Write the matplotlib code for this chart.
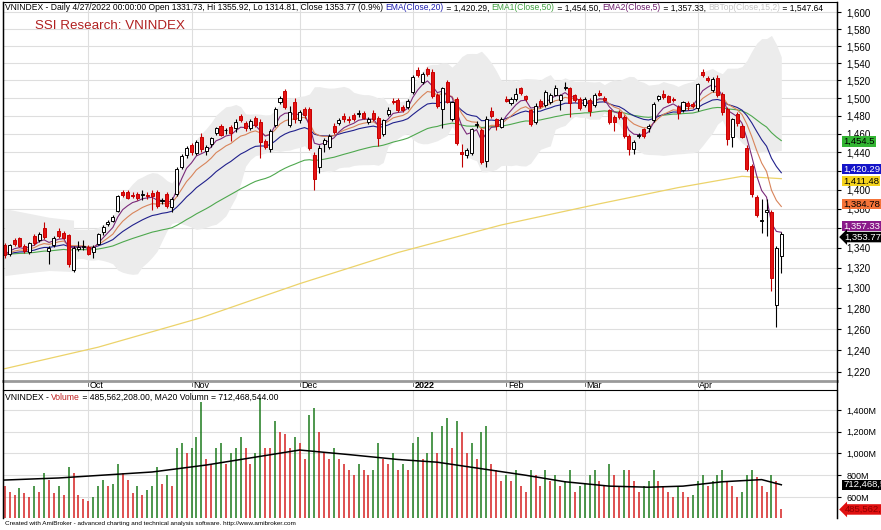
import numpy as np
import pandas as pd
import matplotlib
matplotlib.use("Agg")
import matplotlib.pyplot as plt
import matplotlib.transforms as mtransforms
from matplotlib.ticker import NullLocator
from matplotlib.lines import Line2D

# ---------------- data ----------------
opens = [1343,1334,1348,1350,1342,1336,1352,1348,1360,1337,1343,1357,1355,1353,1318,1339,1341,
         1341,1336,1344,1356,1364,1367,1377,1397,1397,1394,1395,1394,1394,1396,1397,1388,1395,1382,1395,1424,1437,
         1448,1439,1457,1441,1449,1461,1469,1464,1468,1467,1480,1472,1466,1478,1473,1452,1443,1470,1495,1508,1470,1495,
         1475,1488,1488,1437,1424,1449,1446,1469,1472,1480,1476,1481,1482,1483,1473,1483,1478,1460,1482,1497,1498,1490,1490,
         1507,1532,1518,1533,1530,1504,1488,1518,1476,1499,1440,1437,1439,1470,1464,1430,1485,1476,1468,
         1499,1494,1499,1511,1502,1486,1473,1497,1492,1495,1504,1498,1511,1511,1503,1499,
         1492,1498,1492,1506,1500,1486,1479,1484,1479,1458,1443,1458,1465,1466,1475,1499,1505,1502,1499,1490,1486,1494,1493,
         1489,1530,1523,1509,1523,1505,1488,1457,1482,1469,1445,1425,1392,1367,1376,1376,1283,1331.73]
highs = [1345,1344,1350,1351,1344,1346,1354,1356,1366,1342,1352,1360,1357,1354,1342,1347,1348,
         1343,1343,1355,1363,1368,1373,1394,1400,1399,1397,1397,1400,1397,1399,1399,1391,1397,1392,1424,1438,1447,
         1450,1453,1461,1448,1457,1468,1471,1467,1470,1476,1482,1474,1476,1480,1476,1454,1465,1490,1502,1510,1491,1500,
         1486,1490,1490,1440,1448,1455,1460,1472,1478,1483,1480,1483,1487,1485,1479,1486,1480,1477,1490,1500,1500,1492,1499,
         1526,1535,1530,1536,1533,1506,1513,1521,1497,1501,1449,1444,1467,1474,1467,1480,1490,1478,1479,
         1502,1501,1511,1513,1504,1488,1494,1499,1509,1506,1515,1505,1518,1513,1505,1501,
         1501,1500,1506,1509,1502,1488,1481,1486,1481,1460,1453,1461,1467,1471,1495,1504,1509,1504,1501,1492,1497,1497,1495,
         1517,1533,1525,1524,1526,1507,1490,1478,1484,1471,1448,1427,1394,1390,1390,1378,1342,1355.92]
lows = [1329,1332,1342,1341,1335,1334,1343,1346,1349,1323,1341,1350,1349,1321,1316,1337,1338,
        1333,1330,1343,1353,1362,1366,1376,1392,1390,1391,1389,1389,1390,1378,1381,1385,1381,1376,1393,1422,1434,
        1437,1437,1440,1437,1446,1459,1458,1460,1452,1462,1473,1463,1464,1468,1434,1443,1440,1468,1493,1488,1468,1472,
        1472,1478,1442,1400,1418,1440,1443,1460,1470,1473,1472,1474,1479,1476,1471,1474,1447,1458,1480,1493,1484,1484,1488,
        1505,1524,1516,1525,1500,1489,1467,1494,1474,1448,1424,1434,1437,1466,1427,1424,1478,1464,1466,
        1495,1492,1497,1504,1497,1469,1471,1489,1490,1493,1502,1486,1509,1479,1496,1487,
        1490,1480,1490,1502,1496,1471,1463,1476,1455,1437,1438,1455,1456,1462,1473,1497,1499,1494,1496,1476,1484,1486,1489,
        1485,1524,1518,1507,1501,1481,1448,1446,1469,1455,1420,1392,1371,1355,1352,1297,1262,1314.81]
closes = [1333,1343,1344,1342,1337,1345,1345,1354,1351,1340,1350,1352,1350,1323,1340,1341,1342,
          1334,1341,1354,1361,1366,1371,1393,1394,1391,1393,1391,1395,1393,1393,1383,1388,1383,1390,1422,1436,1445,
          1440,1451,1443,1446,1455,1466,1459,1464,1461,1473,1475,1466,1474,1470,1451,1446,1463,1488,1500,1490,1484,1477,
          1484,1481,1444,1411,1445,1453,1458,1462,1475,1476,1475,1476,1482,1478,1477,1476,1455,1475,1487,1495,1486,1486,1497,
          1524,1526,1528,1528,1502,1491,1511,1496,1495,1450,1438,1442,1465,1471,1429,1477,1480,1469,1477,
          1497,1499,1505,1506,1499,1471,1491,1491,1507,1504,1511,1503,1513,1494,1498,1489,
          1499,1485,1504,1504,1498,1473,1473,1479,1458,1443,1451,1458,1458,1469,1493,1502,1501,1496,1498,1483,1495,1491,1491,
          1516,1526,1520,1522,1504,1484,1454,1476,1472,1457,1422,1395,1373,1368,1378,1310,1340,1353.77]
volumes_m = [700,650,620,680,640,600,700,650,820,760,640,700,620,880,820,620,580,
             560,600,700,760,700,720,900,820,760,640,700,620,660,700,880,720,800,700,1050,1100,1000,
             1050,1150,1470,950,900,1050,1100,900,1000,1050,1150,1050,900,1000,1510,1050,1050,1300,1200,1180,1050,1150,
             1100,950,1350,1420,1200,1000,950,1050,950,900,850,800,900,850,800,850,1100,950,900,1000,850,900,850,
             1100,1150,950,1000,1200,1000,1250,1330,1050,1300,1200,1000,1100,950,1200,1250,900,850,750,
             800,750,850,700,650,850,800,700,850,750,800,700,750,850,650,700,
             720,800,850,750,700,900,800,700,850,850,750,650,700,750,850,750,700,650,600,700,650,600,620,
             750,800,700,750,800,850,750,700,600,650,800,850,780,700,650,800,750,485.56]

month_labels = ["Oct", "Nov", "Dec", "2022", "Feb", "Mar", "Apr"]
month_start = [17, 38, 60, 83, 102, 118, 141]

ma200_idx = [0, 19, 40, 60, 80, 101, 121, 137, 150, 158]
ma200_val = [1223, 1243, 1271, 1304, 1335, 1363, 1385, 1402, 1414, 1411.48]

# cloud edges read where they are not given by 15 earlier closes, and the cloud floor on the last bars
band_early_idx = [0, 5, 9, 14]
band_early_top = [1380, 1375, 1371, 1368]
band_early_bot = [1312, 1315, 1317, 1316]
band_late_idx = [150, 151, 152, 153, 154, 155, 156, 157, 158]
band_late_bot = [1450, 1446, 1443, 1441, 1440, 1440, 1440, 1441, 1442]

volma_idx = [0, 11, 30, 41, 60, 70, 80, 88, 97, 106, 114, 123, 131, 138, 146, 154, 158]
volma_val = [756, 775, 830, 894, 1032, 990, 945, 920, 860, 800, 740, 700, 690, 700, 740, 760, 712.47]

price_ticks = list(range(1220, 1601, 20))
price_tick_hidden = [1420, 1360]
vol_ticks = [600, 800, 1000, 1200, 1400]

# ---------------- figure ----------------
W, H = 881, 530
plt.rcParams['font.family'] = ['Liberation Sans', 'DejaVu Sans']
fig = plt.figure(figsize=(W / 100, H / 100), dpi=100)


def rect(x0, y0, x1, y1):
    return [x0 / W, 1 - y1 / H, (x1 - x0) / W, (y1 - y0) / H]


ax = fig.add_axes(rect(2.5, 1.5, 837, 381))
axv = fig.add_axes(rect(2.5, 390, 837, 518))

o = np.array(opens, float)
h = np.array(highs, float)
l = np.array(lows, float)
c = np.array(closes, float)
v = np.array(volumes_m, float)
n = len(c)
idx = np.arange(n)

cs = pd.Series(c)
ema5 = cs.ewm(span=5, adjust=False).mean()
ema10 = cs.ewm(span=10, adjust=False).mean()
ema20 = cs.ewm(span=20, adjust=False).mean()
ema50 = cs.ewm(span=50, adjust=False).mean()
sma15 = cs.rolling(15).mean()
sd15 = cs.rolling(15).std(ddof=0)
bbt = (sma15 + 2 * sd15).to_numpy()
bbb = (sma15 - 2 * sd15).to_numpy()
bbb[band_late_idx] = band_late_bot

XL = (-0.456, 169.33)
ax.set_xlim(*XL)
ax.set_yscale('log')
ax.set_ylim(1211.7, 1613.3)
ax.yaxis.tick_right()
ax.set_yticks(price_ticks)
ax.set_yticklabels(["" if t in price_tick_hidden else f"{t:,}" for t in price_ticks])
ax.yaxis.set_minor_locator(NullLocator())
ax.tick_params(axis='y', labelsize=7, length=3, pad=4, colors='black')
ax.set_xticks(month_start)
ax.tick_params(axis='x', length=0, labelbottom=False)
ax.grid(True, color='#dedede', lw=0.8)
ax.set_axisbelow(True)

# cloud
ax.fill_between(band_early_idx, band_early_bot, band_early_top, color='#ececec', lw=0, zorder=0.6)
ax.fill_between(idx[14:], bbb[14:], bbt[14:], color='#ececec', lw=0, zorder=0.6)
# moving averages
ax.plot(ma200_idx, ma200_val, color='#ecd36a', lw=0.9, zorder=2)
ax.plot(idx, ema50, color='#4ea84e', lw=0.8, zorder=2)
ax.plot(idx, ema20, color='#20208c', lw=0.8, zorder=2)
ax.plot(idx, ema10, color='#d8845a', lw=0.8, zorder=2)
ax.plot(idx, ema5, color='#7a2a7a', lw=0.8, zorder=2)

up = c >= o
wick_col = np.where(up, 'black', '#c00000')
ax.vlines(idx, l, h, colors=wick_col, lw=0.8, zorder=3)
body_h = np.maximum(np.abs(c - o), 0.7)
ax.bar(idx, body_h, bottom=np.minimum(o, c), width=0.62,
       color=np.where(up, 'white', '#e41212'), edgecolor=np.where(up, 'black', '#c80000'),
       linewidth=0.7, zorder=4)

for s in ['left', 'top', 'right']:
    ax.spines[s].set_color('black')
ax.spines['bottom'].set_color('#9a9a9a')
ax.spines['bottom'].set_linewidth(2)

# ---------------- volume panel ----------------
axv.set_xlim(*XL)
VMIN, VMAX = 406.9, 1583.9
axv.set_ylim(VMIN, VMAX)
axv.yaxis.tick_right()
axv.set_yticks(vol_ticks)
axv.set_yticklabels([f"{t:,}M" for t in vol_ticks])
axv.tick_params(axis='y', labelsize=6.5, length=3, pad=4)
axv.set_xticks(month_start)
axv.tick_params(axis='x', length=0, labelbottom=False)
axv.grid(True, color='#dedede', lw=0.8)
axv.set_axisbelow(True)
vup = np.concatenate([[False], v[1:] > v[:-1]])
vcol = np.where(vup, '#1d7a1d', '#d42020')
axv.vlines(idx, VMIN, v, colors=vcol, lw=1.1, zorder=2)
axv.plot(volma_idx, volma_val, color='black', lw=1.1, zorder=3)
axv.spines['bottom'].set_visible(False)

# ---------------- month labels strip ----------------
tr = mtransforms.blended_transform_factory(ax.transData, fig.transFigure)
for lab, i0 in zip(month_labels, month_start):
    fig.text(i0 + 0.35, 1 - 385.8 / H, lab, transform=tr, fontsize=6.5, va='center', ha='left',
             fontweight='bold' if lab == '2022' else 'normal')
    fig.add_artist(Line2D([i0, i0], [1 - 382.5 / H, 1 - 385.5 / H], transform=tr, color='#555555', lw=0.6))

# frame lines
fig.add_artist(Line2D([2.5 / W, 2.5 / W], [1 - 1.5 / H, 1 - 518 / H], color='black', lw=1.0))
fig.add_artist(Line2D([837 / W, 837 / W], [1 - 1.5 / H, 1 - 518 / H], color='black', lw=1.0))

# ---------------- texts ----------------
renderer = fig.canvas.get_renderer()


def seq_text(x_px, y_px, segs, size):
    x = x_px
    for s, col in segs:
        t = fig.text(x / W, 1 - y_px / H, s, color=col, fontsize=size, va='center', ha='left')
        bb = t.get_window_extent(renderer)
        x = bb.x1


seq_text(5, 8, [("VNINDEX - Daily 4/27/2022 00:00:00 Open 1331.73, Hi 1355.92, Lo 1314.81, Close 1353.77 (0.9%) ", 'black'),
                ("EMA(Close,20)", '#2020b0'), (" = 1,420.29, ", 'black'),
                ("EMA1(Close,50)", '#3fa03f'), (" = 1,454.50, ", 'black'),
                ("EMA2(Close,5)", '#6a1a6a'), (" = 1,357.33, ", 'black'),
                ("BBTop(Close,15,2)", '#c4c4c4'), (" = 1,547.64", 'black')], 6.15)
fig.text(35 / W, 1 - 26 / H, "SSI Research: VNINDEX", color='#b02020', fontsize=9.6, va='center', ha='left')
seq_text(5, 397.3, [("VNINDEX - ", 'black'), ("Volume", '#c02020'),
                    (" = 485,562,208.00, MA20 Volumn = 712,468,544.00", 'black')], 6.2)
fig.text(5 / W, 1 - 524 / H,
         "Created with AmiBroker - advanced charting and technical analysis software. http://www.amibroker.com",
         fontsize=4.6, va='center', ha='left', color='black')


def vlabel(a, val, txt, fc, tc, dy=0.0, arrow=False):
    tr_ = mtransforms.blended_transform_factory(a.transAxes, a.transData)
    a.annotate(txt, xy=(1.0, val), xycoords=tr_, xytext=(5.5 if arrow else 4.5, dy), textcoords='offset points',
               fontsize=6.8, color=tc, va='center', ha='left', annotation_clip=False,
               bbox=dict(boxstyle='larrow,pad=0.08' if arrow else 'square,pad=0.08', fc=fc, ec=fc, lw=0))


vlabel(ax, 1454.5, "1,454.5", '#33b533', 'black', dy=-1.8)
vlabel(ax, 1420.29, "1,420.29", '#1414c8', 'white', dy=1.0)
vlabel(ax, 1411.48, "1,411.48", '#f4d21c', 'black', dy=-1.8)
vlabel(ax, 1384.78, "1,384.78", '#f47338', 'black')
vlabel(ax, 1357.33, "1,357.33", '#8a1a8a', 'white', dy=3.2)
vlabel(ax, 1353.77, "1,353.77", 'black', 'white', dy=-2.2, arrow=True)
vlabel(axv, 712.47, "712,468,544", 'black', 'white')
vlabel(axv, 485.56, "485,562,208", '#e01010', '#900000', arrow=True)

fig.savefig("out.png", dpi=100)
